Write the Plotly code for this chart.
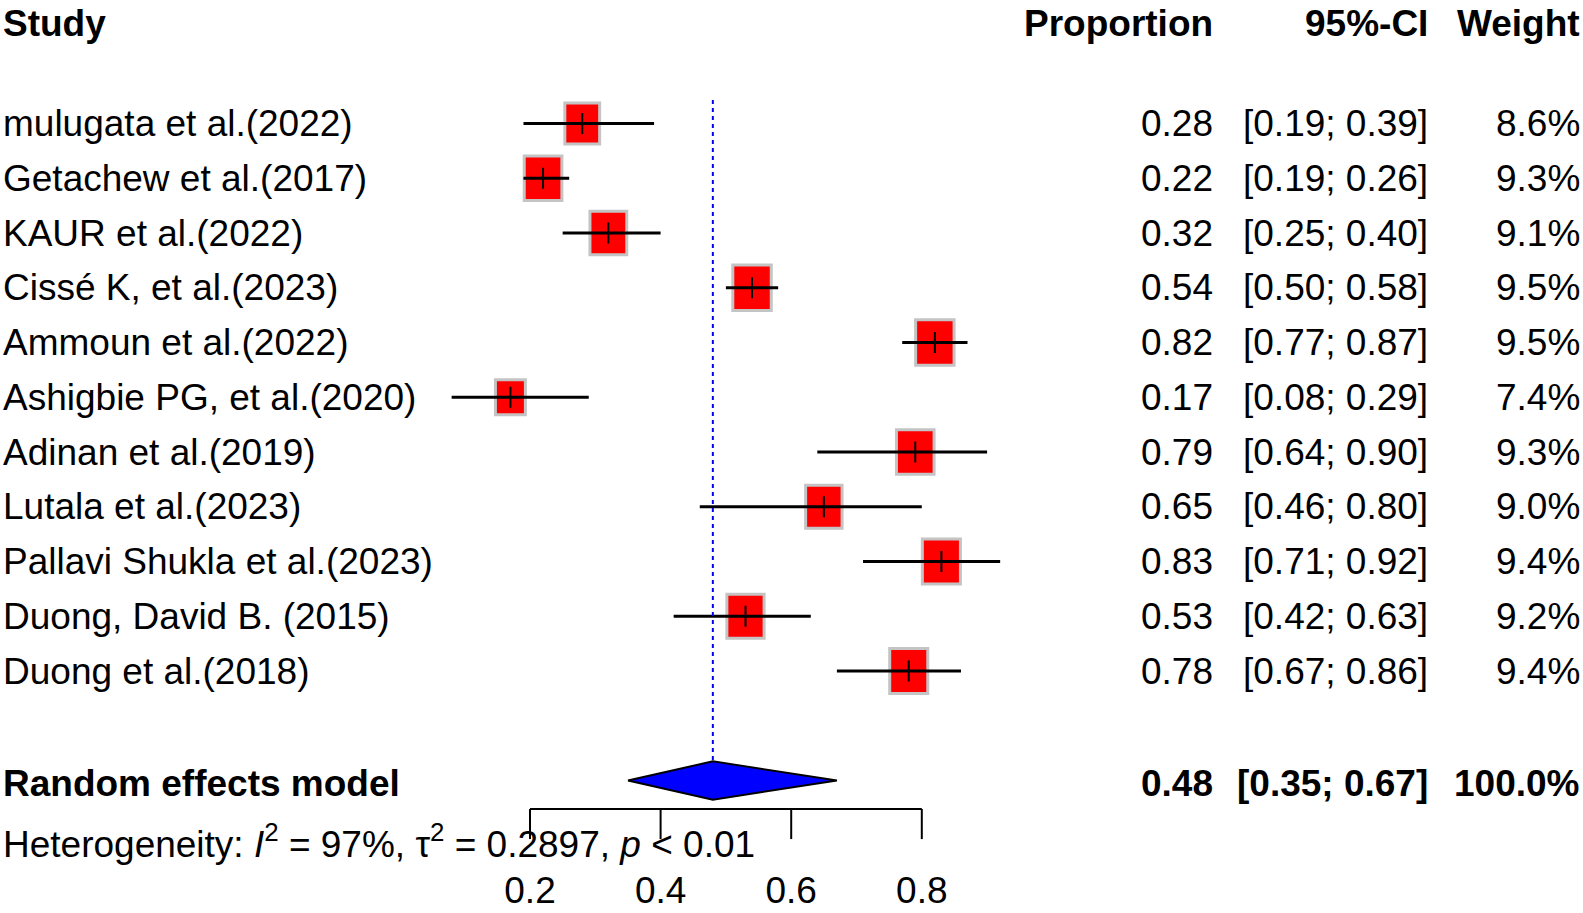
import plotly.graph_objects as go

## Data
studies = ["mulugata et al.(2022)", "Getachew et al.(2017)", "KAUR et al.(2022)",
           "Cissé K, et al.(2023)", "Ammoun et al.(2022)", "Ashigbie PG, et al.(2020)",
           "Adinan et al.(2019)", "Lutala et al.(2023)", "Pallavi Shukla et al.(2023)",
           "Duong, David B. (2015)", "Duong et al.(2018)"]
prop = [0.28, 0.22, 0.32, 0.54, 0.82, 0.17, 0.79, 0.65, 0.83, 0.53, 0.78]
ci_lo = [0.19, 0.19, 0.25, 0.50, 0.77, 0.08, 0.64, 0.46, 0.71, 0.42, 0.67]
ci_hi = [0.39, 0.26, 0.40, 0.58, 0.87, 0.29, 0.90, 0.80, 0.92, 0.63, 0.86]
weight = [8.6, 9.3, 9.1, 9.5, 9.5, 7.4, 9.3, 9.0, 9.4, 9.2, 9.4]

re_est, re_lo, re_hi = 0.48, 0.35, 0.67
het_text = "Heterogeneity: <i>I</i><sup>2</sup> = 97%, τ<sup>2</sup> = 0.2897, <i>p</i> < 0.01"
x_ticks = [0.2, 0.4, 0.6, 0.8]

## Layout helpers
W, H = 1583, 913
X0PX, PXU = 530, 653          # pixel of 0.2 and pixels per unit
Y0PX, ROW = 123.5, 54.75      # pixel of first row and row spacing
FONT = "Liberation Sans, Arial"
FS = 37

rows = list(range(len(studies)))
re_row = 12

sq_w = [w * 0.0062 for w in weight]
sq_h = [w * 0.087 for w in weight]

fig = go.Figure()

# squares
fig.add_trace(go.Bar(orientation="h", y=rows, x=sq_w,
                     base=[p - s / 2 for p, s in zip(prop, sq_w)], width=sq_h,
                     marker=dict(color="#FF0000", line=dict(color="#C4C4C4", width=3))))

# CI lines
cx, cy = [], []
for r, lo, hi in zip(rows, ci_lo, ci_hi):
    cx += [lo, hi, None]
    cy += [r, r, None]
fig.add_trace(go.Scatter(x=cx, y=cy, mode="lines", line=dict(color="black", width=3)))
fig.add_trace(go.Scatter(x=prop, y=rows, mode="markers",
                         marker=dict(symbol="line-ns-open", size=15, color="black",
                                     line=dict(color="black", width=2))))

# pooled estimate line
fig.add_trace(go.Scatter(x=[re_est, re_est], y=[-0.43, 11.66], mode="lines",
                         line=dict(color="#0000FF", width=2, dash="4px,4px")))

# diamond
hh = 0.35
fig.add_trace(go.Scatter(x=[re_lo, re_est, re_hi, re_est, re_lo],
                         y=[re_row, re_row - hh, re_row, re_row + hh, re_row],
                         mode="lines", fill="toself", fillcolor="#0000FF",
                         line=dict(color="black", width=2)))

# x axis
ax_y, tk_y = 12.52, 13.07
axx, axy = [x_ticks[0], x_ticks[-1], None], [ax_y, ax_y, None]
for t in x_ticks:
    axx += [t, t, None]
    axy += [ax_y, tk_y, None]
fig.add_trace(go.Scatter(x=axx, y=axy, mode="lines", line=dict(color="black", width=2)))
fig.add_trace(go.Scatter(x=x_ticks, y=[14.06] * len(x_ticks), mode="text",
                         text=[f"{t:.1f}" for t in x_ticks],
                         textfont=dict(family=FONT, size=FS, color="black")))

## Text columns
def txt(x, y, s, anchor="left", bold=False):
    if bold:
        s = f"<b>{s}</b>"
    fig.add_annotation(x=x / W, y=y, xref="paper", yref="y", text=s, showarrow=False,
                       xanchor=anchor, yanchor="middle", borderpad=0,
                       font=dict(family=FONT, size=FS, color="black"))

hdr = -1.83
txt(2, hdr, "Study", bold=True)
txt(1214, hdr, "Proportion", "right", True)
txt(1429, hdr, "95%-CI", "right", True)
txt(1581, hdr, "Weight", "right", True)

for r, s, p, lo, hi, w in zip(rows, studies, prop, ci_lo, ci_hi, weight):
    txt(2, r, s)
    txt(1214, r, f"{p:.2f}", "right")
    txt(1429, r, f"[{lo:.2f}; {hi:.2f}]", "right")
    txt(1581, r, f"{w:.1f}%", "right")

txt(2, re_row + 0.05, "Random effects model", bold=True)
txt(1214, re_row + 0.05, f"{re_est:.2f}", "right", True)
txt(1429, re_row + 0.05, f"[{re_lo:.2f}; {re_hi:.2f}]", "right", True)
txt(1581, re_row + 0.05, "100.0%", "right", True)
txt(2, 13.12, het_text)

fig.update_layout(
    width=W, height=H, margin=dict(l=0, r=0, t=0, b=0),
    plot_bgcolor="white", paper_bgcolor="white", showlegend=False,
    xaxis=dict(range=[0.2 - X0PX / PXU, 0.2 + (W - X0PX) / PXU], visible=False),
    yaxis=dict(range=[(H - Y0PX) / ROW, -Y0PX / ROW], visible=False),
)

fig.write_html("out.html", config={"displayModeBar": False},
               post_script="document.body.style.margin='0px';")
